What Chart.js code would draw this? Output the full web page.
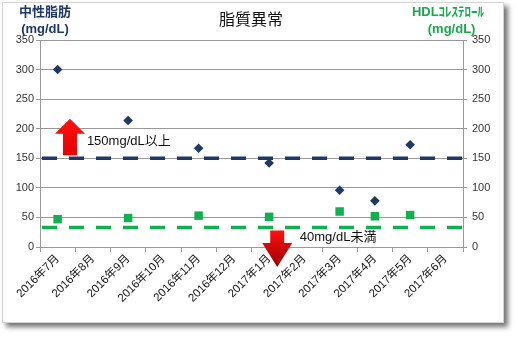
<!DOCTYPE html>
<html lang="ja">
<head>
<meta charset="UTF-8">
<title>脂質異常</title>
<script src="https://cdn.jsdelivr.net/npm/chart.js"></script>
<style>
  * { margin: 0; padding: 0; }
  body { background: #fff; width: 518px; height: 339px; overflow: hidden; }
  .wrap { position: relative; width: 518px; height: 339px; }
  .frame {
    position: absolute; left: 2px; top: 2px; width: 500px; height: 319px;
    border: 1px solid #d4d4d4; background: #fff;
    box-shadow: 4px 4px 5px rgba(0,0,0,0.55);
  }
  canvas { position: absolute; left: 0; top: 0; }
  .lbl {
    position: absolute; font-family: 'Liberation Sans', 'Noto Sans CJK JP', sans-serif;
    white-space: nowrap; text-align: center; line-height: 17px;
  }
  .title { left: 201px; top: 11px; width: 100px; font-size: 16px; color: #111; }
  .ltitle { left: 5px; top: 3px; width: 80px; font-size: 13px; font-weight: bold; color: #1f3864; }
  .rtitle { left: 400px; top: 3px; width: 96px; font-size: 13px; font-weight: bold; color: #1aa84e; }
</style>
</head>
<body>
<div class="wrap">
  <div class="frame"></div>
  <canvas id="myChart" width="518" height="339"></canvas>
  <div class="lbl title">脂質異常</div>
  <div class="lbl ltitle">中性脂肪<br>(mg/dL)</div>
  <div class="lbl rtitle">HDLｺﾚｽﾃﾛｰﾙ<br>&nbsp;&nbsp;(mg/dL)</div>
</div>

<script>
// month labels
const months = ['2016年7月', '2016年8月', '2016年9月', '2016年10月', '2016年11月', '2016年12月',
                '2017年1月', '2017年2月', '2017年3月', '2017年4月', '2017年5月', '2017年6月'];
// 中性脂肪 (mg/dL)
const triglyceride = [300, null, 214, null, 167, null, 142, null, 96, 78, 173, null];
// HDLコレステロール (mg/dL)
const hdl = [47, null, 49, null, 53, null, 51, null, 60, 52, 54, null];
// reference lines
const tgLimit = 150;
const hdlLimit = 33;
const yTicks = [0, 50, 100, 150, 200, 250, 300, 350];

const font = { family: "'Liberation Sans', 'Noto Sans CJK JP', sans-serif", size: 11 };

// dashed limit lines + arrows and notes
const limitPlugin = {
  id: 'limits',
  beforeDatasetsDraw(chart) {
    const { ctx, chartArea, scales } = chart;
    const lines = [
      { v: tgLimit, color: '#1f3864', scale: scales.y },
      { v: hdlLimit, color: '#10b050', scale: scales.y2 }
    ];
    ctx.save();
    ctx.lineWidth = 3.5;
    ctx.setLineDash([15, 12]);
    lines.forEach(l => {
      const py = l.scale.getPixelForValue(l.v);
      ctx.strokeStyle = l.color;
      ctx.beginPath();
      ctx.moveTo(chartArea.left + 2, py);
      ctx.lineTo(chartArea.right, py);
      ctx.stroke();
    });
    ctx.restore();
  },
  afterDatasetsDraw(chart) {
    const { ctx, scales } = chart;
    const x = scales.x, y = scales.y;
    // tipVal = value at arrow point, tailVal = value at shaft end
    function arrow(idx, tipVal, tailVal, up) {
      const cx = x.getPixelForValue(idx);
      const tip = y.getPixelForValue(tipVal);
      const tail = y.getPixelForValue(tailVal);
      const head = up ? tip + 15 : tip - 24;
      const g = ctx.createLinearGradient(0, Math.min(tip, tail), 0, Math.max(tip, tail));
      g.addColorStop(0, '#ff1010');
      g.addColorStop(1, up ? '#e80000' : '#9a0000');
      ctx.fillStyle = g;
      ctx.beginPath();
      ctx.moveTo(cx, tip);
      ctx.lineTo(cx + 15, head);
      ctx.lineTo(cx + 7, head);
      ctx.lineTo(cx + 7, tail);
      ctx.lineTo(cx - 7, tail);
      ctx.lineTo(cx - 7, head);
      ctx.lineTo(cx - 15, head);
      ctx.closePath();
      ctx.fill();
    }
    ctx.save();
    arrow(0.35, 217, 155, true);
    arrow(6.23, -34, 28, false);
    ctx.fillStyle = '#111';
    ctx.font = "13px 'Liberation Sans', 'Noto Sans CJK JP', sans-serif";
    ctx.textBaseline = 'middle';
    ctx.fillText('150mg/dL以上', x.getPixelForValue(0.83), y.getPixelForValue(178));
    ctx.fillText('40mg/dL未満', x.getPixelForValue(6.87), y.getPixelForValue(16));
    ctx.restore();
  }
};

const data = {
  labels: months,
  datasets: [{
    label: '中性脂肪',
    data: triglyceride,
    yAxisID: 'y',
    showLine: false,
    pointStyle: 'rectRot',
    pointRadius: 4.8,
    backgroundColor: '#1f3864',
    borderColor: '#1f3864',
    borderWidth: 0
  }, {
    label: 'HDLコレステロール',
    data: hdl,
    yAxisID: 'y2',
    showLine: false,
    pointStyle: 'rect',
    pointRadius: 6,
    backgroundColor: '#10b050',
    borderColor: '#10b050',
    borderWidth: 0
  }]
};

const yCommon = {
  min: 0, max: 350,
  afterBuildTicks: s => { s.ticks = yTicks.map(v => ({ value: v })); },
  border: { color: '#999' }
};

const config = {
  type: 'line',
  data,
  plugins: [limitPlugin],
  options: {
    responsive: false,
    animation: false,
    layout: { padding: { top: 40, left: 0, right: 0, bottom: 0 } },
    plugins: { legend: { display: false }, tooltip: { enabled: false } },
    scales: {
      x: {
        offset: true,
        grid: { offset: true, drawOnChartArea: false, tickLength: 5, color: '#999' },
        border: { color: '#999' },
        ticks: { font: Object.assign({}, font, { size: 11.5 }), color: '#111', minRotation: 45, maxRotation: 45, autoSkip: false, padding: 0 },
        afterFit: s => { s.height = 92; }
      },
      y: Object.assign({}, yCommon, {
        position: 'left',
        grid: { color: '#999', tickLength: 4 },
        ticks: { font, color: '#333', padding: 2 },
        afterFit: s => { s.width = 40; }
      }),
      y2: Object.assign({}, yCommon, {
        position: 'right',
        grid: { drawOnChartArea: false, color: '#999', tickLength: 4 },
        ticks: { font, color: '#333', padding: 5 },
        afterFit: s => { s.width = 55; }
      })
    }
  }
};

const myChart = new Chart(document.getElementById('myChart'), config);
</script>
</body>
</html>
